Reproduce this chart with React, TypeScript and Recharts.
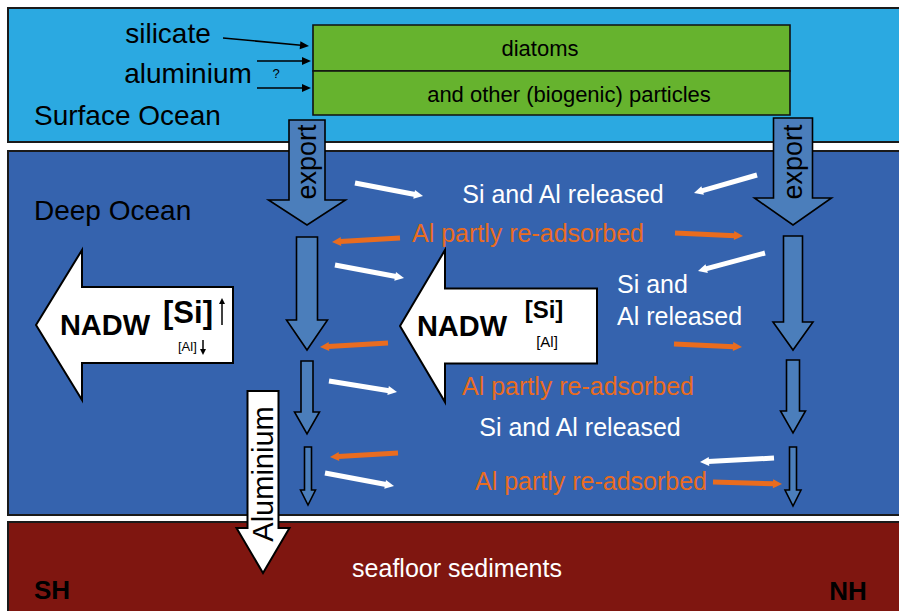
import React from 'react';
import { ComposedChart, XAxis, YAxis, ReferenceArea, ReferenceLine, ReferenceDot } from 'recharts';

const WIDTH = 899;
const HEIGHT = 611;
const FONT = '"Liberation Sans", Arial, sans-serif';

// diagram coordinates (x to the right, y downwards)
const layers = [
  { name: 'surface', x1: 8, x2: 920, y1: 8, y2: 142 },
  { name: 'deep', x1: 8, x2: 920, y1: 151, y2: 515 },
  { name: 'sediment', x1: 8, x2: 920, y1: 522, y2: 650 },
];

const particleBoxes = [
  { name: 'diatoms', x1: 313, x2: 790, y1: 25, y2: 71 },
  { name: 'particles', x1: 313, x2: 790, y1: 71, y2: 115 },
];

const blockArrows = [
  { name: 'export SH', kind: 'blue', from: { x: 307, y: 120 }, to: { x: 307, y: 225 }, shaft: 36, head: 77, headLen: 25 },
  { name: 'export NH', kind: 'blue', from: { x: 793, y: 118 }, to: { x: 793, y: 225 }, shaft: 39, head: 77, headLen: 27 },
  { name: 'sink SH 1', kind: 'blue', from: { x: 307, y: 237 }, to: { x: 307, y: 350 }, shaft: 21, head: 41, headLen: 30 },
  { name: 'sink SH 2', kind: 'blue', from: { x: 307, y: 361 }, to: { x: 307, y: 434 }, shaft: 12, head: 25, headLen: 22 },
  { name: 'sink SH 3', kind: 'blue', from: { x: 308, y: 447 }, to: { x: 308, y: 505 }, shaft: 7, head: 15, headLen: 15 },
  { name: 'sink NH 1', kind: 'blue', from: { x: 793, y: 236 }, to: { x: 793, y: 350 }, shaft: 19, head: 40, headLen: 28 },
  { name: 'sink NH 2', kind: 'blue', from: { x: 793, y: 360 }, to: { x: 793, y: 433 }, shaft: 13, head: 25, headLen: 22 },
  { name: 'sink NH 3', kind: 'blue', from: { x: 793, y: 447 }, to: { x: 793, y: 506 }, shaft: 7, head: 16, headLen: 16 },
  { name: 'NADW south', kind: 'white', from: { x: 233, y: 325 }, to: { x: 36, y: 325 }, shaft: 76, head: 150, headLen: 46 },
  { name: 'NADW mid', kind: 'white', from: { x: 597, y: 326 }, to: { x: 400, y: 326 }, shaft: 75, head: 152, headLen: 45 },
  { name: 'Aluminium', kind: 'white', from: { x: 263, y: 391 }, to: { x: 263, y: 573 }, shaft: 31, head: 53, headLen: 45 },
];

const inputArrows = [
  { from: { x: 223, y: 38 }, to: { x: 309, y: 46 } },
  { from: { x: 257, y: 61 }, to: { x: 311, y: 61 } },
  { from: { x: 257, y: 88 }, to: { x: 311, y: 88 } },
];

// [Si] up, [Al] down next to the southern NADW arrow
const trendArrows = [
  { from: { x: 222, y: 325 }, to: { x: 222, y: 298 } },
  { from: { x: 203, y: 340 }, to: { x: 203, y: 355 } },
];

const releaseArrows = [
  { from: { x: 355, y: 183 }, to: { x: 423, y: 196 } },
  { from: { x: 757, y: 175 }, to: { x: 694, y: 193 } },
  { from: { x: 335, y: 265 }, to: { x: 404, y: 278 } },
  { from: { x: 765, y: 253 }, to: { x: 698, y: 271 } },
  { from: { x: 329, y: 381 }, to: { x: 397, y: 392 } },
  { from: { x: 325, y: 473 }, to: { x: 394, y: 486 } },
  { from: { x: 774, y: 458 }, to: { x: 700, y: 462 } },
];

const adsorbArrows = [
  { from: { x: 400, y: 238 }, to: { x: 332, y: 242 } },
  { from: { x: 675, y: 233 }, to: { x: 743, y: 236 } },
  { from: { x: 388, y: 343 }, to: { x: 320, y: 347 } },
  { from: { x: 674, y: 344 }, to: { x: 742, y: 347 } },
  { from: { x: 398, y: 453 }, to: { x: 330, y: 457 } },
  { from: { x: 713, y: 482 }, to: { x: 782, y: 484 } },
];

const labels = [
  { text: 'silicate', kind: 'input', x: 168, y: 33 },
  { text: 'aluminium', kind: 'input', x: 188, y: 73 },
  { text: '?', kind: 'question', x: 276, y: 74 },
  { text: 'Surface Ocean', kind: 'layer', x: 34, y: 115 },
  { text: 'diatoms', kind: 'box', x: 540, y: 49 },
  { text: 'and other (biogenic) particles', kind: 'box', x: 569, y: 95 },
  { text: 'export', kind: 'export', x: 307, y: 162 },
  { text: 'export', kind: 'export', x: 793, y: 162 },
  { text: 'Deep Ocean', kind: 'layer', x: 34, y: 210 },
  { text: 'Si and Al released', kind: 'release', x: 563, y: 194 },
  { text: 'Al partly re-adsorbed', kind: 'adsorb', x: 528, y: 233 },
  { text: 'Si and', kind: 'releaseLeft', x: 617, y: 284 },
  { text: 'Al released', kind: 'releaseLeft', x: 617, y: 316 },
  { text: 'NADW', kind: 'nadw', x: 105, y: 325 },
  { text: '[Si]', kind: 'siBig', x: 188, y: 312 },
  { text: '[Al]', kind: 'alSmall', x: 178, y: 347 },
  { text: 'NADW', kind: 'nadw', x: 462, y: 326 },
  { text: '[Si]', kind: 'siMid', x: 544, y: 310 },
  { text: '[Al]', kind: 'alMid', x: 547, y: 342 },
  { text: 'Al partly re-adsorbed', kind: 'adsorb', x: 578, y: 386 },
  { text: 'Si and Al released', kind: 'release', x: 580, y: 427 },
  { text: 'Al partly re-adsorbed', kind: 'adsorb', x: 591, y: 481 },
  { text: 'Aluminium', kind: 'aluminium', x: 263, y: 474 },
  { text: 'seafloor sediments', kind: 'sediment', x: 457, y: 568 },
  { text: 'SH', kind: 'hemi', x: 52, y: 590 },
  { text: 'NH', kind: 'hemi', x: 848, y: 591 },
];

const LAYER_COLORS: Record<string, string> = {
  surface: '#2BA9E1',
  deep: '#3563AE',
  sediment: '#7F1610',
};
const GREEN = '#66B32E';
const ORANGE = '#E96C1F';
const ARROW_FILL: Record<string, string> = { blue: '#4B7EBB', white: '#FFFFFF' };

const LABEL_STYLE: Record<string, any> = {
  input: { size: 28, color: '#000', anchor: 'middle' },
  question: { size: 13, color: '#000', anchor: 'middle' },
  layer: { size: 28, color: '#000', anchor: 'start' },
  box: { size: 22, color: '#000', anchor: 'middle' },
  export: { size: 27, color: '#000', anchor: 'middle', rotate: -90 },
  release: { size: 25, color: '#FFFFFF', anchor: 'middle' },
  releaseLeft: { size: 25, color: '#FFFFFF', anchor: 'start' },
  adsorb: { size: 25, color: ORANGE, anchor: 'middle' },
  nadw: { size: 29, color: '#000', anchor: 'middle', bold: true },
  siBig: { size: 31, color: '#000', anchor: 'middle', bold: true },
  siMid: { size: 24, color: '#000', anchor: 'middle', bold: true },
  alSmall: { size: 13, color: '#000', anchor: 'start' },
  alMid: { size: 15, color: '#000', anchor: 'middle' },
  aluminium: { size: 29, color: '#000', anchor: 'middle', rotate: -90 },
  sediment: { size: 25, color: '#FFFFFF', anchor: 'middle' },
  hemi: { size: 26, color: '#000', anchor: 'middle', bold: true },
};

const BlockArrow = ({ x1, y1, x2, y2, spec }: any) => {
  const dx = x2 - x1;
  const dy = y2 - y1;
  const len = Math.hypot(dx, dy);
  const ux = dx / len;
  const uy = dy / len;
  const nx = -uy;
  const ny = ux;
  const s = spec.shaft / 2;
  const h = spec.head / 2;
  const neckX = x1 + ux * (len - spec.headLen);
  const neckY = y1 + uy * (len - spec.headLen);
  const pts = [
    [x1 + nx * s, y1 + ny * s],
    [neckX + nx * s, neckY + ny * s],
    [neckX + nx * h, neckY + ny * h],
    [x2, y2],
    [neckX - nx * h, neckY - ny * h],
    [neckX - nx * s, neckY - ny * s],
    [x1 - nx * s, y1 - ny * s],
  ];
  return (
    <polygon
      points={pts.map((p) => p.join(',')).join(' ')}
      fill={ARROW_FILL[spec.kind]}
      stroke="#000"
      strokeWidth={spec.kind === 'white' ? 2 : 1.6}
      strokeLinejoin="miter"
    />
  );
};

const LineArrow = ({ x1, y1, x2, y2, color, width, headLen, headW }: any) => {
  const dx = x2 - x1;
  const dy = y2 - y1;
  const len = Math.hypot(dx, dy);
  const ux = dx / len;
  const uy = dy / len;
  const bx = x2 - ux * headLen;
  const by = y2 - uy * headLen;
  const nx = -uy * headW / 2;
  const ny = ux * headW / 2;
  return (
    <g>
      <line x1={x1} y1={y1} x2={bx + ux} y2={by + uy} stroke={color} strokeWidth={width} />
      <polygon points={`${x2},${y2} ${bx + nx},${by + ny} ${bx - nx},${by - ny}`} fill={color} />
    </g>
  );
};

const Label = ({ cx, cy, item }: any) => {
  const st = LABEL_STYLE[item.kind];
  const base = st.size * 0.34;
  const transform = st.rotate ? `rotate(${st.rotate} ${cx} ${cy})` : undefined;
  return (
    <text
      x={cx}
      y={cy + base}
      textAnchor={st.anchor}
      fontSize={st.size}
      fontFamily={FONT}
      fontWeight={st.bold ? 'bold' : 'normal'}
      fill={st.color}
      transform={transform}
    >
      {item.text}
    </text>
  );
};

export default function App() {
  return (
    <div style={{ position: 'absolute', left: 0, top: 0, width: WIDTH, height: HEIGHT, background: '#fff' }}>
      <ComposedChart width={WIDTH} height={HEIGHT} margin={{ top: 0, right: 0, bottom: 0, left: 0 }}>
        <XAxis type="number" dataKey="x" domain={[0, WIDTH]} allowDataOverflow hide />
        <YAxis type="number" dataKey="y" domain={[0, HEIGHT]} allowDataOverflow reversed hide />

        {layers.map((l) => (
          <ReferenceArea
            key={l.name}
            x1={l.x1}
            x2={l.x2}
            y1={l.y1}
            y2={l.y2}
            ifOverflow="visible"
            fill={LAYER_COLORS[l.name]}
            fillOpacity={1}
            stroke="#1a1a1a"
            strokeWidth={2}
          />
        ))}
        {particleBoxes.map((b) => (
          <ReferenceArea
            key={b.name}
            x1={b.x1}
            x2={b.x2}
            y1={b.y1}
            y2={b.y2}
            ifOverflow="visible"
            fill={GREEN}
            fillOpacity={1}
            stroke="#111"
            strokeWidth={1.6}
          />
        ))}

        {blockArrows.map((a) => (
          <ReferenceLine
            key={a.name}
            segment={[a.from, a.to]}
            ifOverflow="visible"
            shape={(p: any) => <BlockArrow {...p} spec={a} />}
          />
        ))}
        {inputArrows.map((a, i) => (
          <ReferenceLine
            key={`in-${i}`}
            segment={[a.from, a.to]}
            ifOverflow="visible"
            shape={(p: any) => <LineArrow {...p} color="#000" width={1.6} headLen={9} headW={8} />}
          />
        ))}
        {trendArrows.map((a, i) => (
          <ReferenceLine
            key={`tr-${i}`}
            segment={[a.from, a.to]}
            ifOverflow="visible"
            shape={(p: any) => <LineArrow {...p} color="#000" width={1.5} headLen={6} headW={6} />}
          />
        ))}
        {releaseArrows.map((a, i) => (
          <ReferenceLine
            key={`rel-${i}`}
            segment={[a.from, a.to]}
            ifOverflow="visible"
            shape={(p: any) => <LineArrow {...p} color="#FFFFFF" width={5} headLen={9} headW={9} />}
          />
        ))}
        {adsorbArrows.map((a, i) => (
          <ReferenceLine
            key={`ads-${i}`}
            segment={[a.from, a.to]}
            ifOverflow="visible"
            shape={(p: any) => <LineArrow {...p} color={ORANGE} width={5} headLen={9} headW={9} />}
          />
        ))}

        {labels.map((item, i) => (
          <ReferenceDot
            key={`lab-${i}`}
            x={item.x}
            y={item.y}
            r={0}
            ifOverflow="visible"
            shape={(p: any) => <Label {...p} item={item} />}
          />
        ))}
      </ComposedChart>
    </div>
  );
}
